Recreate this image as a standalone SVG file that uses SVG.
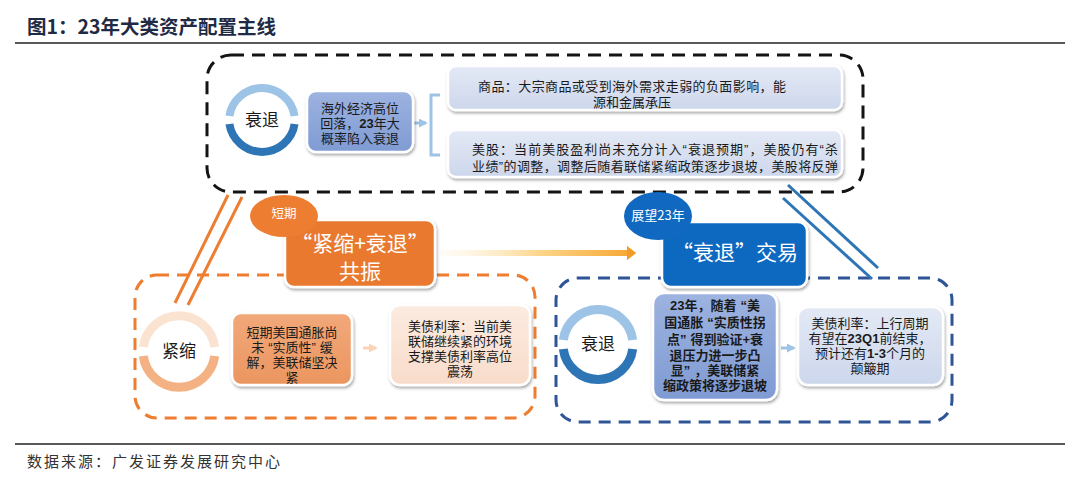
<svg xmlns="http://www.w3.org/2000/svg" width="1080" height="485" viewBox="0 0 1080 485">
<defs>
<style>
.cjk{font-family:"Noto Sans CJK SC","Liberation Sans",sans-serif;}
.body{font-family:"Liberation Sans","Noto Sans CJK SC",sans-serif;}
.t13{font-size:13px;fill:#1a1a1a;text-anchor:middle;}
.w{fill:#ffffff;text-anchor:middle;}
.dash-k{fill:none;stroke:#141414;stroke-width:3;stroke-dasharray:13 8;}
.dash-o{fill:none;stroke:#ed7d31;stroke-width:3;stroke-dasharray:12 8;}
.dash-b{fill:none;stroke:#2f5597;stroke-width:3;stroke-dasharray:12 8;}
.card{stroke:#ffffff;stroke-width:2.5;filter:url(#sh);}
</style>
<filter id="sh" x="-20%" y="-20%" width="140%" height="150%">
<feDropShadow dx="1" dy="2" stdDeviation="1.8" flood-color="#000" flood-opacity="0.35"/>
</filter>
<linearGradient id="gLav" x1="0" y1="0" x2="0" y2="1"><stop offset="0" stop-color="#e3e9f5"/><stop offset="1" stop-color="#cdd7ec"/></linearGradient>
<linearGradient id="gBlueMid" x1="0" y1="0" x2="0" y2="1"><stop offset="0" stop-color="#9db3e0"/><stop offset="1" stop-color="#7f9bd3"/></linearGradient>
<linearGradient id="gOrMid" x1="0" y1="0" x2="0" y2="1"><stop offset="0" stop-color="#f2a87a"/><stop offset="1" stop-color="#eb9660"/></linearGradient>
<linearGradient id="gPeach" x1="0" y1="0" x2="0" y2="1"><stop offset="0" stop-color="#fcebe0"/><stop offset="1" stop-color="#f8dccb"/></linearGradient>
<linearGradient id="gArrow" x1="0" y1="0" x2="1" y2="0"><stop offset="0" stop-color="#fff6e6" stop-opacity="0.3"/><stop offset="0.5" stop-color="#fcd68c"/><stop offset="1" stop-color="#f7a52e"/></linearGradient>
<marker id="mB" viewBox="0 0 10 10" refX="8" refY="5" markerWidth="3" markerHeight="3" orient="auto"><path d="M0,0 L10,5 L0,10 z" fill="#9dc3e6"/></marker>
<marker id="mO" viewBox="0 0 10 10" refX="8" refY="5" markerWidth="3" markerHeight="3" orient="auto"><path d="M0,0 L10,5 L0,10 z" fill="#fbd3b6"/></marker>
</defs>
<rect width="1080" height="485" fill="#ffffff"/>

<!-- header -->
<g id="title">
<text x="27" y="34" class="cjk" font-size="19.5" font-weight="700" fill="#1f2a44">图1：23年大类资产配置主线</text>
<line x1="15" y1="43" x2="1065" y2="43" stroke="#222" stroke-width="1.3"/>
</g>

<!-- group frames -->
<g id="frame-top"><rect x="207" y="55" width="656" height="137" rx="24" class="dash-k"/></g>
<g id="frame-orange"><rect x="135" y="275" width="400" height="143" rx="22" class="dash-o"/></g>
<g id="frame-blue"><rect x="556" y="278" width="396" height="144" rx="22" class="dash-b"/></g>

<!-- connectors -->
<g id="connectors">
<line x1="413" y1="123" x2="426" y2="123" stroke="#9dc3e6" stroke-width="3" marker-end="url(#mB)"/>
<path d="M440 95 H431 V155 H440" fill="none" stroke="#9dc3e6" stroke-width="3"/>
<line x1="228" y1="195" x2="175" y2="303" stroke="#ed7d31" stroke-width="3"/>
<line x1="242" y1="197" x2="188" y2="305" stroke="#ed7d31" stroke-width="3"/>
<line x1="788" y1="185" x2="878" y2="268" stroke="#2e75b6" stroke-width="3"/>
<line x1="783" y1="198" x2="872" y2="279" stroke="#2e75b6" stroke-width="3"/>
<path d="M440 250 H627 V246 L636 253 L627 260 V256 H440 z" fill="url(#gArrow)"/>
<path d="M627 246 L636 253 L627 260 z" fill="#f39a2a"/>
<line x1="363" y1="348" x2="376" y2="348" stroke="#fbd3b6" stroke-width="3" marker-end="url(#mO)"/>
<line x1="781" y1="348" x2="794" y2="348" stroke="#9dc3e6" stroke-width="3" marker-end="url(#mB)"/>
</g>

<!-- top row -->
<g id="ring-top">
<path d="M229.4 116 A33 33 0 0 1 294.6 116" fill="none" stroke="#9dc3e6" stroke-width="8"/>
<path d="M294.6 124 A33 33 0 0 1 229.4 124" fill="none" stroke="#2e75b6" stroke-width="8"/>
<text x="262" y="126" class="cjk" font-size="17" fill="#1a1a1a" text-anchor="middle">衰退</text>
</g>
<g id="box-overseas">
<rect x="307" y="91" width="106" height="61" rx="9" fill="url(#gBlueMid)" class="card"/>
<text x="360" y="113" class="body t13">海外经济高位</text>
<text x="360" y="128" class="body t13">回落，<tspan font-weight="700">23</tspan>年大</text>
<text x="360" y="143" class="body t13">概率陷入衰退</text>
</g>
<g id="box-commodity">
<rect x="448" y="66" width="394" height="44" rx="8" fill="url(#gLav)" class="card"/>
<text x="632" y="91" class="body t13" textLength="308" lengthAdjust="spacing">商品：大宗商品或受到海外需求走弱的负面影响，能</text>
<text x="632" y="107" class="body t13">源和金属承压</text>
</g>
<g id="box-equity">
<rect x="448" y="130" width="394" height="47" rx="8" fill="url(#gLav)" class="card"/>
<text x="655" y="154" class="body t13" textLength="366" lengthAdjust="spacing">美股：当前美股盈利尚未充分计入“衰退预期”，美股仍有“杀</text>
<text x="655" y="171" class="body t13" textLength="366" lengthAdjust="spacing">业绩”的调整，调整后随着联储紧缩政策逐步退坡，美股将反弹</text>
</g>

<!-- orange theme -->
<g id="box-resonance">
<rect x="285" y="220" width="150" height="67" rx="9" fill="#e8792f" class="card"/>
<text x="360" y="251" class="cjk w" font-size="21">“紧缩+衰退”</text>
<text x="360" y="279" class="cjk w" font-size="21">共振</text>
</g>
<g id="tag-short">
<ellipse cx="284" cy="216" rx="34" ry="21" fill="#ed7d31"/>
<text x="284" y="218" class="cjk w" font-size="12.5">短期</text>
</g>
<g id="ring-tight">
<path d="M143.3 347 A36 36 0 0 1 214.7 347" fill="none" stroke="#fbe3d2" stroke-width="9"/>
<path d="M214.7 356 A36 36 0 0 1 143.3 356" fill="none" stroke="#f4b183" stroke-width="9"/>
<text x="179" y="357" class="cjk" font-size="17" fill="#1a1a1a" text-anchor="middle">紧缩</text>
</g>
<g id="box-us-inflation">
<rect x="232" y="313" width="120" height="72" rx="9" fill="url(#gOrMid)" class="card"/>
<text x="292" y="337" class="body t13">短期美国通胀尚</text>
<text x="292" y="352" class="body t13">未<tspan dx="4">“</tspan>实质性”<tspan dx="4">缓</tspan></text>
<text x="292" y="367" class="body t13">解，美联储坚决</text>
<text x="292" y="382" class="body t13">紧</text>
</g>
<g id="box-yield-short">
<rect x="390" y="305" width="140" height="80" rx="10" fill="url(#gPeach)" class="card"/>
<text x="460" y="331" class="body t13">美债利率：当前美</text>
<text x="460" y="346" class="body t13">联储继续紧的环境</text>
<text x="460" y="361" class="body t13">支撑美债利率高位</text>
<text x="460" y="376" class="body t13">震荡</text>
</g>

<!-- blue theme -->
<g id="box-recession-trade">
<rect x="662" y="222" width="145" height="65" rx="9" fill="#1068c0" class="card"/>
<text x="735" y="260" class="cjk w" font-size="21">“衰退”交易</text>
</g>
<g id="tag-2023">
<ellipse cx="658" cy="216" rx="34" ry="24" fill="#1068c0"/>
<text x="658" y="220" class="cjk w" font-size="13">展望23年</text>
</g>
<g id="ring-recession">
<path d="M563.3 340 A35 35 0 0 1 632.7 340" fill="none" stroke="#9dc3e6" stroke-width="9"/>
<path d="M632.7 349 A35 35 0 0 1 563.3 349" fill="none" stroke="#2e75b6" stroke-width="9"/>
<text x="598" y="350" class="cjk" font-size="17" fill="#1a1a1a" text-anchor="middle">衰退</text>
</g>
<g id="box-2023">
<rect x="653" y="293" width="124" height="107" rx="11" fill="url(#gBlueMid)" class="card"/>
<text x="715" y="310" class="body t13" font-weight="700">23年，随着<tspan dx="4">“</tspan>美</text>
<text x="715" y="327" class="body t13" font-weight="700">国通胀<tspan dx="4">“</tspan>实质性拐</text>
<text x="715" y="344" class="body t13" font-weight="700">点”<tspan dx="4">得</tspan>到验证+衰</text>
<text x="715" y="360" class="body t13" font-weight="700">退压力进一步凸</text>
<text x="715" y="375" class="body t13" font-weight="700">显”<tspan dx="4">，</tspan>美联储紧</text>
<text x="715" y="390" class="body t13" font-weight="700">缩政策将逐步退坡</text>
</g>
<g id="box-yield-outlook">
<rect x="798" y="307" width="145" height="78" rx="10" fill="url(#gLav)" class="card"/>
<text x="870" y="328" class="body t13">美债利率：上行周期</text>
<text x="870" y="343" class="body t13">有望在<tspan font-weight="700">23Q1</tspan>前结束，</text>
<text x="870" y="358" class="body t13">预计还有<tspan font-weight="700">1-3</tspan>个月的</text>
<text x="870" y="373" class="body t13">颠簸期</text>
</g>

<!-- footer -->
<g id="footer">
<line x1="15" y1="444" x2="1065" y2="444" stroke="#222" stroke-width="1.3"/>
<text x="27" y="467" class="cjk" font-size="15" fill="#333" letter-spacing="2">数据来源：广发证券发展研究中心</text>
</g>
</svg>
